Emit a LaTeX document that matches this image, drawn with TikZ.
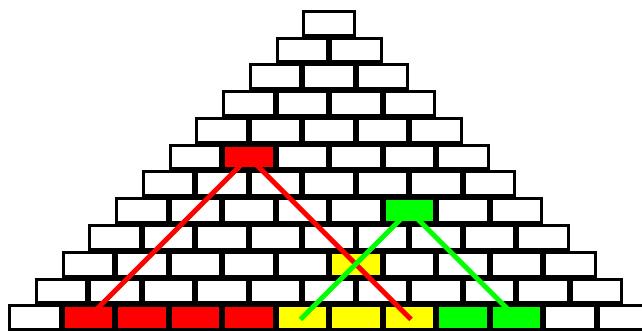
\documentclass[tikz,border=0pt]{standalone}
\usetikzlibrary{calc}
\definecolor{cellred}{HTML}{FF0000}
\definecolor{cellgreen}{HTML}{00FF00}
\definecolor{cellyellow}{HTML}{FFFF00}
\tikzset{brick/.style={draw=black,line width=3pt,fill=white,minimum width=50.5pt,
    minimum height=23.75pt,inner sep=0pt,outer sep=0pt},
  cone/.style={line width=5pt,line cap=rect,line join=miter},
  % coloured bricks, looked up by row-column
  k6-2/.style={fill=cellred},
  k8-6/.style={fill=cellgreen},
  k10-6/.style={fill=cellyellow},
  k12-2/.style={fill=cellred},k12-3/.style={fill=cellred},
  k12-4/.style={fill=cellred},k12-5/.style={fill=cellred},
  k12-6/.style={fill=cellyellow},k12-7/.style={fill=cellyellow},
  k12-8/.style={fill=cellyellow},
  k12-9/.style={fill=cellgreen},k12-10/.style={fill=cellgreen}}

\begin{document}
\begin{tikzpicture}[x=1pt,y=-1pt]
\useasboundingbox (0,0) rectangle (642,331);
\clip (0,0) rectangle (642,331);

% Row r holds r bricks, each row shifted by half a brick.
\foreach \r in {1,...,12}{
  \foreach \c in {1,...,\r}{
    \node[brick,k\r-\c/.try] (b\r-\c)
      at ({8+(12-\r)*26.75+(\c-0.5)*53.5},{10+(\r-0.5)*26.75}) {};
  }
}

% Cones down to the bottom row.
\draw[cone,cellred] (b12-2.center) -- (b6-2.center) -- (b12-8.center);
\draw[cone,cellgreen] (b12-6.center) -- (b8-6.center) -- (b12-10.center);
\end{tikzpicture}
\end{document}
